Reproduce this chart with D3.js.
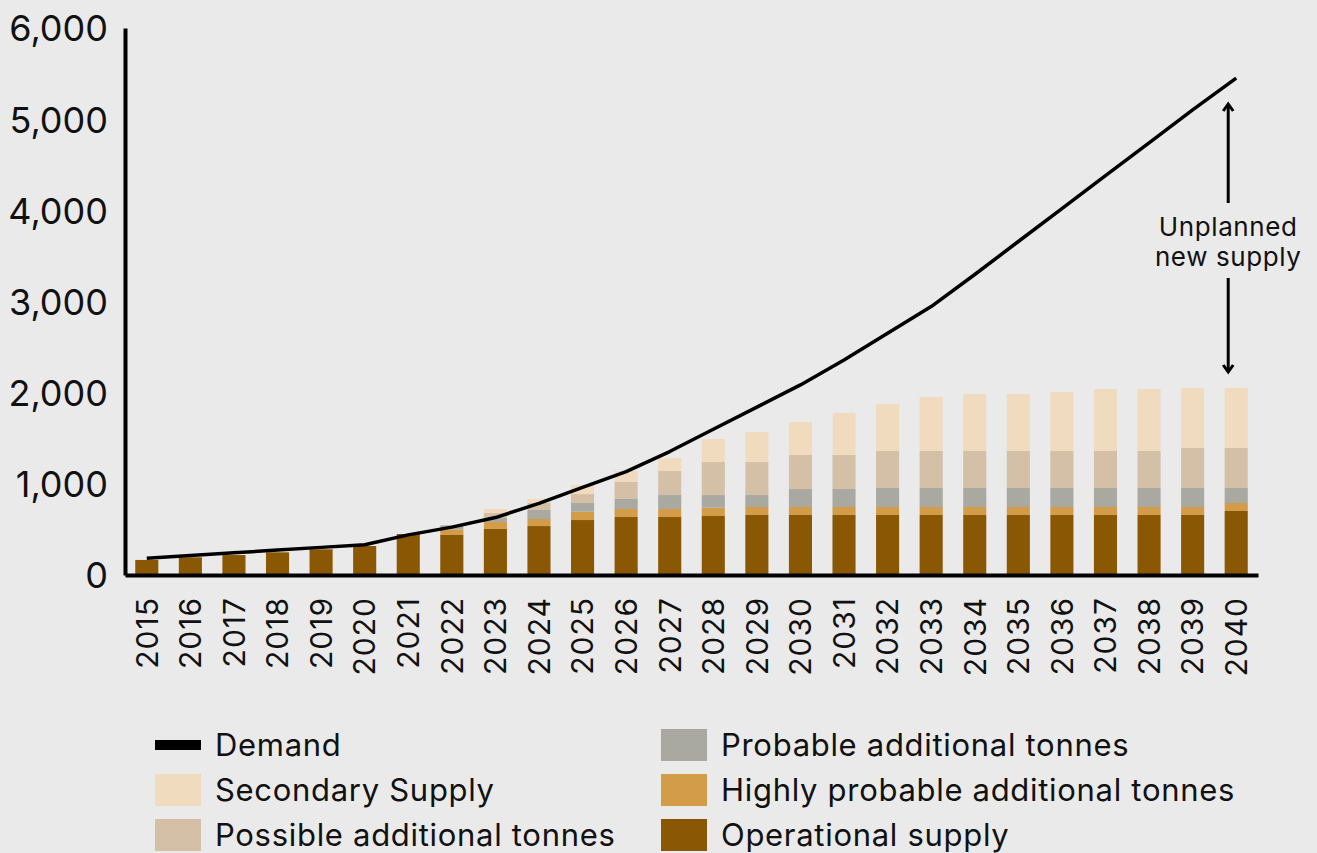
<!DOCTYPE html>
<html>
<head>
<meta charset="utf-8">
<script src="https://cdn.jsdelivr.net/npm/d3@7/dist/d3.min.js"></script>
<style>
  html, body { margin: 0; padding: 0; background: #eaeaea; }
  svg { display: block; }
  text { font-family: "Inter", "Noto Sans", sans-serif; fill: #111; }
</style>
</head>
<body>
<svg id="chart" width="1317" height="853"></svg>
<script>
const years = ["2015","2016","2017","2018","2019","2020","2021","2022","2023","2024","2025","2026","2027",
  "2028","2029","2030","2031","2032","2033","2034","2035","2036","2037","2038","2039","2040"];
const operational    = [165,194,219,249,282,318,450,439,505,537,603,636,636,647,658,658,658,658,658,658,658,658,658,658,658,702];
const highlyProbable = [0,0,0,0,0,0,0,62,76,77,91,88,88,91,88,88,88,88,88,88,88,88,88,88,88,88];
const probable       = [0,0,0,0,0,0,0,44,44,99,96,110,153,139,131,197,197,208,208,208,208,208,208,208,208,164];
const possible       = [0,0,0,0,0,0,0,0,55,77,98,186,264,362,362,373,373,406,406,406,406,406,406,406,439,439];
const secondary      = [0,0,0,0,0,0,0,0,44,44,99,121,142,253,329,362,461,516,592,625,625,647,680,680,658,658];
const demand         = [183,213,243,273,303,332,440,525,630,786,961,1134,1354,1599,1842,2085,2358,2651,2944,3296,3658,4019,4380,4741,5102,5450];
const yTicks = [0,1000,2000,3000,4000,5000,6000];

const seriesKeys = ["operational","highlyProbable","probable","possible","secondary"];
const seriesColors = {
  operational: "#8a5705",
  highlyProbable: "#d39c48",
  probable: "#a9a8a1",
  possible: "#d3c0a7",
  secondary: "#f0dbbf"
};
const seriesValues = {operational, highlyProbable, probable, possible, secondary};

const table = years.map((yr, i) => {
  const row = {year: yr, demand: demand[i]};
  seriesKeys.forEach(k => row[k] = seriesValues[k][i]);
  return row;
});

const svg = d3.select("#chart");
const x = d3.scaleBand().domain(years).range([125, 1258]).paddingInner(0.47).paddingOuter(0.235);
const y = d3.scaleLinear().domain([0, 6000]).range([575, 28]);

// Bars
const stacked = d3.stack().keys(seriesKeys)(table);
svg.append("g").selectAll("g").data(stacked).join("g")
  .attr("fill", d => seriesColors[d.key])
  .selectAll("rect").data(d => d).join("rect")
  .attr("x", d => x(d.data.year))
  .attr("width", x.bandwidth())
  .attr("y", d => y(d[1]))
  .attr("height", d => Math.max(0, y(d[0]) - y(d[1])));

// Demand line
const line = d3.line()
  .x(d => x(d.year) + x.bandwidth() / 2)
  .y(d => y(d.demand));
svg.append("path").datum(table)
  .attr("d", line)
  .attr("fill", "none")
  .attr("stroke", "#000")
  .attr("stroke-width", 3.5)
  .attr("stroke-linejoin", "round");

// Y axis
const yAxis = d3.axisLeft(y).tickValues(yTicks).tickSize(0).tickPadding(17)
  .tickFormat(d3.format(","));
const gy = svg.append("g").attr("transform", "translate(125,0)").call(yAxis);
gy.select(".domain").attr("stroke", "#000").attr("stroke-width", 4);
gy.selectAll("text").style("font-size", "36px").attr("fill", "#111").attr("dy", "0.36em");

// X axis
const xAxis = d3.axisBottom(x).tickSize(0).tickSizeOuter(0);
const gx = svg.append("g").attr("transform", "translate(0,575)").call(xAxis);
gx.select(".domain").attr("stroke", "#000").attr("stroke-width", 4);
gx.selectAll("text")
  .style("font-size", "30px")
  .style("letter-spacing", "1px")
  .attr("fill", "#111")
  .attr("text-anchor", "end")
  .attr("transform", "translate(0,22) rotate(-90)")
  .attr("x", 0).attr("y", 0).attr("dy", "0.36em");

// Annotation
const annX = x("2040") + x.bandwidth() / 2 - 8;
const ann = svg.append("g").attr("stroke", "#000").attr("stroke-width", 3).attr("fill", "none");
ann.append("line").attr("x1", annX).attr("x2", annX).attr("y1", 104).attr("y2", 203);
ann.append("line").attr("x1", annX).attr("x2", annX).attr("y1", 278).attr("y2", 372);
ann.append("path").attr("d", `M${annX-5},${111} L${annX},${104} L${annX+5},${111}`);
ann.append("path").attr("d", `M${annX-5},${365} L${annX},${372} L${annX+5},${365}`);
svg.append("text").attr("x", annX).attr("y", 227).attr("dy", "0.36em")
  .attr("text-anchor", "middle").style("font-size", "26px").style("letter-spacing", "0.6px").text("Unplanned");
svg.append("text").attr("x", annX).attr("y", 257).attr("dy", "0.36em")
  .attr("text-anchor", "middle").style("font-size", "26px").style("letter-spacing", "0.6px").text("new supply");

// Legend
const legendItems = [
  {label: "Demand", type: "line", color: "#000", col: 0, row: 0},
  {label: "Secondary Supply", type: "box", color: seriesColors.secondary, col: 0, row: 1},
  {label: "Possible additional tonnes", type: "box", color: seriesColors.possible, col: 0, row: 2},
  {label: "Probable additional tonnes", type: "box", color: seriesColors.probable, col: 1, row: 0},
  {label: "Highly probable additional tonnes", type: "box", color: seriesColors.highlyProbable, col: 1, row: 1},
  {label: "Operational supply", type: "box", color: seriesColors.operational, col: 1, row: 2}
];
const colX = [155, 661];
const rowY = [745, 790, 835];
const lg = svg.append("g");
legendItems.forEach(it => {
  const cx = colX[it.col], cy = rowY[it.row];
  if (it.type === "line") {
    lg.append("rect").attr("x", cx).attr("y", cy - 5).attr("width", 46).attr("height", 10).attr("fill", it.color);
  } else {
    lg.append("rect").attr("x", cx).attr("y", cy - 16).attr("width", 46).attr("height", 32).attr("fill", it.color);
  }
  lg.append("text").attr("x", cx + 60).attr("y", cy).attr("dy", "0.36em")
    .style("font-size", "31px").style("letter-spacing", "0.7px").text(it.label);
});
</script>
</body>
</html>
